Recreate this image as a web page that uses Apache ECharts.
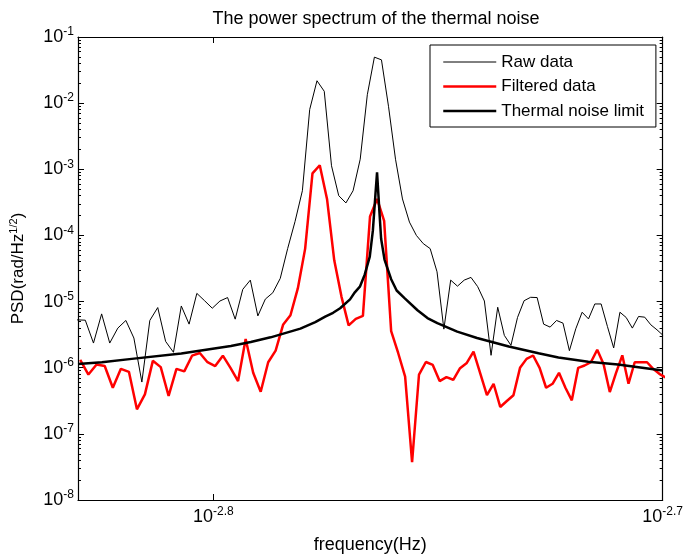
<!DOCTYPE html>
<html lang="en">
<head>
<meta charset="UTF-8">
<title>Thermal noise PSD</title>
<script src="https://cdn.jsdelivr.net/npm/echarts@6/dist/echarts.min.js"></script>
<style>
    html, body { margin: 0; height: 100%; background: #fff; }
    #psd { width: 686px; height: 559px; }
</style>
</head>
<body>
<div id="psd"></div>
<script>
// FFT bins: raw and filtered spectra share the bin width, filtered bins sit a bit later
var binStart = 1.4780e-3;   // Hz
var binWidth = 6.2375e-6;   // Hz
var filteredShift = 0.38;   // in bins

var rawPsd = [
    5.29e-6, 5.23e-6, 2.36e-6, 6.51e-6, 2.36e-6, 3.97e-6, 5.18e-6, 2.81e-6, 6.07e-7, 5.18e-6,
    8.12e-6, 2.50e-6, 1.71e-6, 8.58e-6, 4.56e-6, 1.33e-5, 1.03e-5, 7.93e-6, 1.02e-5, 1.15e-5,
    5.42e-6, 1.53e-5, 2.11e-5, 6.07e-6, 1.09e-5, 1.36e-5, 2.24e-5, 6.32e-5, 1.62e-4, 4.74e-4,
    8.01e-3, 2.18e-2, 1.51e-2, 1.13e-3, 3.99e-4, 3.10e-4, 4.74e-4, 1.42e-3, 1.34e-2, 4.96e-2,
    4.51e-2, 8.97e-3, 1.42e-3, 3.56e-4, 1.59e-4, 1.00e-4, 7.51e-5, 6.32e-5, 2.82e-5, 3.83e-6,
    2.11e-5, 1.71e-5, 2.11e-5, 2.32e-5, 1.68e-5, 1.02e-5, 1.54e-6, 8.21e-6, 3.08e-6, 2.18e-6,
    5.75e-6, 1.03e-5, 1.16e-5, 1.15e-5, 4.56e-6, 4.11e-6, 5.18e-6, 4.72e-6, 1.81e-6, 3.88e-6,
    6.90e-6, 5.47e-6, 9.20e-6, 9.20e-6, 4.21e-6, 1.99e-6, 6.90e-6, 5.75e-6, 3.97e-6, 5.95e-6,
    5.81e-6, 4.45e-6, 3.74e-6, 3.08e-6
];

var filteredPsd = [
    1.31e-6, 7.89e-7, 1.12e-6, 1.06e-6, 4.98e-7, 9.61e-7, 8.66e-7, 2.35e-7, 3.95e-7, 1.27e-6,
    1.02e-6, 3.74e-7, 9.61e-7, 8.81e-7, 1.52e-6, 1.67e-6, 1.21e-6, 1.06e-6, 1.52e-6, 9.95e-7,
    6.28e-7, 2.71e-6, 8.37e-7, 4.34e-7, 1.21e-6, 1.81e-6, 4.45e-6, 6.22e-6, 1.58e-5, 6.32e-5,
    8.66e-4, 1.15e-3, 3.56e-4, 4.21e-5, 1.19e-5, 4.36e-6, 5.47e-6, 6.07e-6, 1.93e-4, 3.56e-4,
    1.66e-4, 3.58e-6, 1.67e-6, 7.34e-7, 3.72e-8, 7.89e-7, 1.22e-6, 1.10e-6, 6.28e-7, 7.21e-7,
    6.57e-7, 9.84e-7, 1.18e-6, 1.75e-6, 8.23e-7, 3.84e-7, 5.72e-7, 2.55e-7, 3.14e-7, 3.84e-7,
    9.95e-7, 1.36e-6, 1.53e-6, 9.95e-7, 4.98e-7, 5.72e-7, 8.37e-7, 4.98e-7, 3.21e-7, 9.95e-7,
    1.08e-6, 1.21e-6, 1.87e-6, 1.14e-6, 4.29e-7, 8.37e-7, 1.54e-6, 5.72e-7, 1.21e-6, 1.21e-6,
    1.21e-6, 9.61e-7, 8.09e-7, 7.16e-7
];

// thermal noise limit (denser near the resonance)
var thermalFreq = [
    1.4787e-3, 1.4969e-3, 1.5200e-3, 1.5591e-3, 1.5750e-3, 1.5992e-3, 1.6156e-3, 1.6321e-3,
    1.6572e-3, 1.6699e-3, 1.6784e-3, 1.6852e-3, 1.6913e-3, 1.6999e-3, 1.7041e-3, 1.7085e-3,
    1.7128e-3, 1.7172e-3, 1.7199e-3, 1.7222e-3, 1.7236e-3, 1.7257e-3, 1.7272e-3, 1.7302e-3,
    1.7360e-3, 1.7410e-3, 1.7478e-3, 1.7597e-3, 1.7687e-3, 1.7777e-3, 1.7959e-3, 1.8142e-3,
    1.8440e-3, 1.8723e-3, 1.8915e-3, 1.9206e-3, 1.9501e-3, 1.9953e-3
];
var thermalPsd = [
    1.14e-6, 1.21e-6, 1.36e-6, 1.64e-6, 1.82e-6, 2.13e-6, 2.45e-6, 2.88e-6,
    3.90e-6, 4.88e-6, 5.91e-6, 6.76e-6, 7.93e-6, 1.08e-5, 1.38e-5, 1.68e-5,
    2.57e-5, 4.79e-5, 1.18e-4, 4.23e-4, 8.97e-4, 2.27e-4, 8.92e-5, 4.32e-5,
    2.20e-5, 1.47e-5, 1.14e-5, 7.40e-6, 5.63e-6, 4.72e-6, 3.52e-6, 2.81e-6,
    2.09e-6, 1.65e-6, 1.43e-6, 1.23e-6, 1.12e-6, 9.06e-7
];

var seriesNames = ['Raw data', 'Filtered data', 'Thermal noise limit'];
var lineWidths = [1, 2.5, 2.5];
var lineColors = ['#000', '#ff0000', '#000'];
var xTicks = [1.58489e-3, 1.99526e-3];   // 10^-2.8, 10^-2.7

var font = 'Liberation Sans, Arial, Helvetica, sans-serif';

var rawData = [];
for (var i = 0; i < rawPsd.length; i++) {
    rawData.push([binStart + i * binWidth, rawPsd[i]]);
}
var filteredData = [];
for (var i = 0; i < filteredPsd.length; i++) {
    filteredData.push([binStart + (i + filteredShift) * binWidth, filteredPsd[i]]);
}
var thermalData = [];
for (var i = 0; i < thermalPsd.length; i++) {
    thermalData.push([thermalFreq[i], thermalPsd[i]]);
}
var seriesData = [rawData, filteredData, thermalData];

var powRich = {
    b: { fontSize: 18, fontFamily: font, color: '#000' },
    s: { fontSize: 12, fontFamily: font, color: '#000', padding: [0, 0, 10, 0] }
};

function yLabel(v) {
    return '{b|10}{s|' + Math.round(Math.log10(v)) + '}';
}
function xLabel(v) {
    return '{b|10}{s|' + Math.log10(v).toFixed(1) + '}';
}

var chart = echarts.init(document.getElementById('psd'));

var yBase = {
    type: 'log',
    logBase: 10,
    min: 1e-8,
    max: 1e-1,
    splitLine: { show: false },
    axisLine: { show: true, lineStyle: { color: '#000', width: 1.2 } },
    axisTick: { show: true, inside: true, length: 6, lineStyle: { color: '#000' } },
    minorTick: { show: true, splitNumber: 9, length: 3, lineStyle: { color: '#000' } }
};

var legendItems = [];
var series = [];
for (var k = 0; k < seriesNames.length; k++) {
    legendItems.push({
        name: seriesNames[k],
        lineStyle: { width: lineWidths[k], color: lineColors[k] }
    });
    series.push({
        name: seriesNames[k],
        type: 'line',
        data: seriesData[k],
        symbol: 'none',
        lineStyle: { color: lineColors[k], width: lineWidths[k] },
        itemStyle: { color: lineColors[k] }
    });
}

var option = {
    animation: false,
    backgroundColor: '#fff',
    title: {
        text: 'The power spectrum of the thermal noise',
        left: 371,
        textAlign: 'center',
        top: 5,
        textStyle: { fontSize: 18, fontWeight: 'normal', color: '#000', fontFamily: font }
    },
    legend: {
        data: legendItems,
        orient: 'vertical',
        left: 430,
        top: 45,
        itemWidth: 53,
        itemHeight: 14,
        itemGap: 4.5,
        padding: [7, 12, 6, 12],
        borderColor: '#000',
        borderWidth: 1,
        backgroundColor: '#fff',
        itemStyle: { opacity: 0 },
        textStyle: { fontSize: 17, lineHeight: 20, color: '#000', fontFamily: font }
    },
    grid: { left: 76, right: 21, top: 37, bottom: 56 },
    xAxis: [
        {
            type: 'log',
            logBase: 10,
            min: binStart + 0.7e-6,
            max: 1.995262e-3,
            name: 'frequency(Hz)',
            nameLocation: 'middle',
            nameGap: 36,
            nameTextStyle: { fontSize: 18, color: '#000', fontFamily: font },
            splitLine: { show: false },
            axisLine: { lineStyle: { color: '#000', width: 1.2 } },
            axisTick: { inside: true, length: 6, customValues: xTicks, lineStyle: { color: '#000' } },
            axisLabel: { customValues: xTicks, margin: 6, formatter: xLabel, rich: powRich }
        },
        {
            type: 'log',
            logBase: 10,
            position: 'top',
            min: binStart + 0.7e-6,
            max: 1.995262e-3,
            splitLine: { show: false },
            axisLine: { lineStyle: { color: '#000', width: 1.2 } },
            axisTick: { inside: true, length: 6, customValues: xTicks, lineStyle: { color: '#000' } },
            axisLabel: { show: false }
        }
    ],
    yAxis: [
        Object.assign({}, yBase, {
            position: 'left',
            name: '{n|PSD(rad/Hz}{s|1/2}{n|)}',
            nameLocation: 'middle',
            nameRotate: 90,
            nameGap: 50,
            nameTextStyle: {
                rich: {
                    n: { fontSize: 17, color: '#000', fontFamily: font },
                    s: { fontSize: 11, color: '#000', fontFamily: font, padding: [0, 0, 9, 0] }
                }
            },
            axisLabel: { margin: 4, formatter: yLabel, rich: powRich }
        }),
        Object.assign({}, yBase, {
            position: 'right',
            axisLabel: { show: false }
        })
    ],
    series: series
};

chart.setOption(option);
</script>
</body>
</html>
